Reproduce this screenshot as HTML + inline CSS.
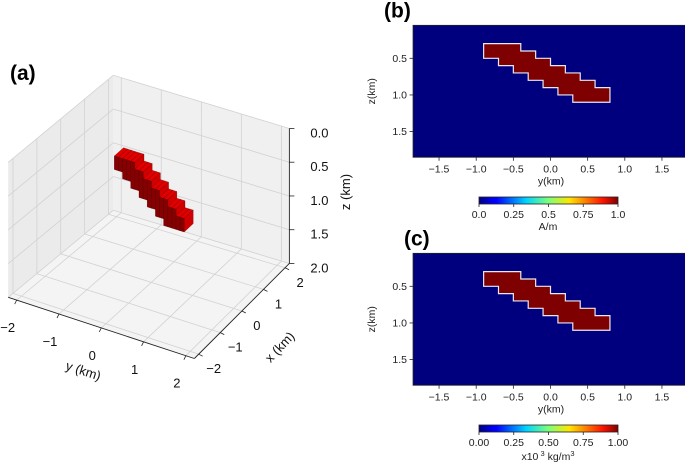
<!DOCTYPE html>
<html><head><meta charset="utf-8">
<style>
html,body{margin:0;padding:0;background:#fff;}
svg{display:block;font-family:"Liberation Sans","DejaVu Sans",sans-serif;}
</style></head>
<body>
<svg id="fig" width="685" height="467" viewBox="0 0 685 467">
<defs>
<linearGradient id="jet" x1="0" x2="1" y1="0" y2="0">
<stop offset="0" stop-color="#00007f"/><stop offset="0.11" stop-color="#0000ff"/>
<stop offset="0.125" stop-color="#0000ff"/><stop offset="0.34" stop-color="#00d4ff"/>
<stop offset="0.5" stop-color="#7dff7a"/><stop offset="0.65" stop-color="#ffe600"/>
<stop offset="0.89" stop-color="#ff1300"/><stop offset="1" stop-color="#7f0000"/>
</linearGradient>
</defs>
<g id="pa"></g>
<g id="pb"></g>
<g id="pc"></g>
</svg>
<script>
// body model: columns of 0.1 km in y, with top and bottom depth (km)
const colY0 = [-0.9,-0.8,-0.7,-0.6,-0.5,-0.4,-0.3,-0.2,-0.1,0.0,0.1,0.2,0.3,0.4,0.5,0.6,0.7];
const colTop = [0.3,0.3,0.3,0.3,0.3,0.4,0.4,0.5,0.5,0.6,0.6,0.7,0.7,0.8,0.8,0.9,0.9];
const colBot = [0.5,0.5,0.6,0.6,0.7,0.7,0.8,0.8,0.9,0.9,1.0,1.0,1.1,1.1,1.1,1.1,1.1];
const colW = 0.1;
const bodyX = [0.0, 0.4];
const yTicks2d = [-1.5,-1.0,-0.5,0.0,0.5,1.0,1.5];
const zTicks2d = [0.5,1.0,1.5];
const cbTicksB = ["0.0","0.25","0.5","0.75","1.0"];
const cbTicksC = ["0.00","0.25","0.50","0.75","1.00"];
const ticks3dY = [-2,-1,0,1,2];
const ticks3dX = [-2,-1,0,1,2];
const ticks3dZ = [0.0,0.5,1.0,1.5,2.0];

const NS="http://www.w3.org/2000/svg";
function mk(parent,tag,attrs,text){const e=document.createElementNS(NS,tag);for(const k in attrs)e.setAttribute(k,attrs[k]);if(text!==undefined)e.textContent=text;parent.appendChild(e);return e;}
function fmt(v){return (v<0?"\u2212":"")+Math.abs(v).toFixed(1);}

// ---------- 3D panel ----------
const pa=document.getElementById('pa');
const L=2.2;
function P(x,y,z){
  const c=((x+L)/(2*L))*((L-y)/(2*L));
  return [148.8+21.6*x+42.3*y+10*c, 145.4-21.6*x+13.9*y+67.5*z+8*c];
}
function poly(pts){return pts.map(p=>p[0].toFixed(1)+","+p[1].toFixed(1)).join(" ");}
function line3(a,b,attrs){const p=P(...a),q=P(...b);return mk(pa,'line',Object.assign({x1:p[0],y1:p[1],x2:q[0],y2:q[1]},attrs));}
let e;
e=mk(pa,'polygon',{points:poly([P(-L,-L,0),P(L,-L,0),P(L,-L,2),P(-L,-L,2)]),fill:"#ebebeb"});

e=mk(pa,'polygon',{points:poly([P(L,-L,0),P(L,L,0),P(L,L,2),P(L,-L,2)]),fill:"#f0f0f0"});

e=mk(pa,'polygon',{points:poly([P(-L,-L,2),P(L,-L,2),P(L,L,2),P(-L,L,2)]),fill:"#f4f4f4"});

const g={stroke:"#d2d2d2","stroke-width":0.8};
ticks3dY.forEach(y=>{line3([L,y,0],[L,y,2],g);line3([-L,y,2],[L,y,2],g);});
ticks3dX.forEach(x=>{line3([x,-L,0],[x,-L,2],g);line3([x,-L,2],[x,L,2],g);});
ticks3dZ.forEach(z=>{line3([-L,-L,z],[L,-L,z],g);line3([L,-L,z],[L,L,z],g);});
const ax={stroke:"#222","stroke-width":0.9};
line3([-L,-L,2],[-L,L,2],ax);line3([-L,L,2],[L,L,2],ax);line3([L,L,0],[L,L,2],ax);
ticks3dY.forEach(y=>{const p=P(-L,y,2);mk(pa,'line',{x1:p[0],y1:p[1],x2:p[0]-2,y2:p[1]+4,stroke:"#222","stroke-width":0.8});
  const t=mk(pa,'text',{x:p[0]-9,y:p[1]+32,"font-size":13,"text-anchor":"middle",fill:"#111"},y<0?"\u2212"+(-y):String(y));
  });
ticks3dX.forEach(x=>{const p=P(x,L,2);mk(pa,'line',{x1:p[0],y1:p[1],x2:p[0]+4,y2:p[1]+2,stroke:"#222","stroke-width":0.8});
  const t=mk(pa,'text',{x:p[0]+15,y:p[1]+19,"font-size":13,"text-anchor":"middle",fill:"#111"},x<0?"\u2212"+(-x):String(x));
  });
ticks3dZ.forEach(z=>{const p=P(L,L,z);mk(pa,'line',{x1:p[0],y1:p[1],x2:p[0]+5,y2:p[1],stroke:"#222","stroke-width":0.8});
  const t=mk(pa,'text',{x:p[0]+21,y:p[1]+9,"font-size":13,"text-anchor":"start",fill:"#111"},z.toFixed(1));
  });
const x0=bodyX[0],x1=bodyX[1];
colY0.forEach((y0,i)=>{
  const y1=y0+colW,zt=colTop[i],zb=colBot[i];
  let f=mk(pa,'polygon',{points:poly([P(x0,y0,zt),P(x1,y0,zt),P(x1,y1,zt),P(x0,y1,zt)]),fill:"#e00000",stroke:"#600","stroke-width":0.3});
  
  f=mk(pa,'polygon',{points:poly([P(x0,y1,zt),P(x1,y1,zt),P(x1,y1,zb),P(x0,y1,zb)]),fill:"#d00000",stroke:"#600","stroke-width":0.3});
  
  f=mk(pa,'polygon',{points:poly([P(x0,y0,zt),P(x0,y1,zt),P(x0,y1,zb),P(x0,y0,zb)]),fill:"#850000",stroke:"#500","stroke-width":0.3});
  
});
e=mk(pa,'text',{x:82,y:375,"font-size":13,fill:"#111",transform:"rotate(18 82 375)","text-anchor":"middle"},"y (km)");

e=mk(pa,'text',{x:283,y:350,"font-size":13,fill:"#111",transform:"rotate(-47 283 350)","text-anchor":"middle"},"x (km)");

e=mk(pa,'text',{x:350,y:192,"font-size":13,fill:"#111",transform:"rotate(-90 350 192)","text-anchor":"middle"},"z (km)");

e=mk(pa,'text',{x:10,y:80,"font-size":21,"font-weight":"bold",fill:"#000"},"(a)");


// ---------- 2D panels ----------
function panel(gid,dy,label,labelX,ticks,unit,unitIsC){
  const G=document.getElementById(gid);
  const sx=y=>550.5+74.3*y, sz=z=>58.3+dy+73.3*(z-0.5);
  const left=sx(-1.85),right=sx(1.85),top=sz(0.05),bot=sz(1.85);
  let r=mk(G,'rect',{x:left,y:top,width:right-left,height:bot-top,fill:"#00007f"});
  
  colY0.forEach((y0,i)=>{
    const c=mk(G,'rect',{x:sx(y0),y:sz(colTop[i]),width:sx(y0+colW)-sx(y0)+0.4,height:sz(colBot[i])-sz(colTop[i]),fill:"#7f0000"});
    
  });
  let d="M"+sx(colY0[0])+","+sz(colBot[0]);
  d+=" L"+sx(colY0[0])+","+sz(colTop[0]);
  colY0.forEach((y0,i)=>{d+=" L"+sx(y0)+","+sz(colTop[i])+" L"+sx(y0+colW)+","+sz(colTop[i]);});
  const n=colY0.length-1;
  d+=" L"+sx(colY0[n]+colW)+","+sz(colBot[n]);
  for(let i=n;i>=0;i--){d+=" L"+sx(colY0[i]+colW)+","+sz(colBot[i])+" L"+sx(colY0[i])+","+sz(colBot[i]);}
  d+=" Z";
  let o=mk(G,'path',{d:d,fill:"none",stroke:"#e8e8f0","stroke-width":1.2});
  
  mk(G,'rect',{x:left,y:top,width:right-left,height:bot-top,fill:"none",stroke:"#222","stroke-width":0.8});
  yTicks2d.forEach(y=>{mk(G,'line',{x1:sx(y),x2:sx(y),y1:bot,y2:bot+3.5,stroke:"#222","stroke-width":0.8});
    const t=mk(G,'text',{x:sx(y),y:bot+15,"font-size":10.5,"text-anchor":"middle",fill:"#222"},fmt(y));
    });
  zTicks2d.forEach(z=>{mk(G,'line',{x1:left-3.5,x2:left,y1:sz(z),y2:sz(z),stroke:"#222","stroke-width":0.8});
    const t=mk(G,'text',{x:left-6,y:sz(z)+3.5,"font-size":10.5,"text-anchor":"end",fill:"#222"},z.toFixed(1));
    });
  let t=mk(G,'text',{x:551,y:bot+27,"font-size":10.5,"text-anchor":"middle",fill:"#222"},"y(km)");
  
  t=mk(G,'text',{x:375,y:(top+bot)/2,"font-size":10.5,"text-anchor":"middle",fill:"#222",transform:"rotate(-90 375 "+((top+bot)/2)+")"},"z(km)");
  
  t=mk(G,'text',{x:labelX,y:top-8,"font-size":21,"font-weight":"bold",fill:"#000"},label);
  
  const cy=197+dy, cx0=479, cx1=618;
  let cb=mk(G,'rect',{x:cx0,y:cy,width:cx1-cx0,height:7,fill:"url(#jet)",stroke:"#222","stroke-width":0.8});
  
  ticks.forEach((s,i)=>{const x=cx0+(cx1-cx0)*i/(ticks.length-1);
    mk(G,'line',{x1:x,x2:x,y1:cy+7,y2:cy+10,stroke:"#222","stroke-width":0.8});
    const tt=mk(G,'text',{x:x,y:cy+21,"font-size":10.5,"text-anchor":"middle",fill:"#222"},s);
    });
  if(unitIsC){
    t=mk(G,'text',{x:548,y:cy+35,"font-size":10.5,"text-anchor":"middle",fill:"#222"});
    t.innerHTML='x10<tspan dy="-4" font-size="7.5"> 3</tspan><tspan dy="4"> kg/m</tspan><tspan dy="-4" font-size="7.5">3</tspan>';
  } else {
    t=mk(G,'text',{x:548,y:cy+33,"font-size":10.5,"text-anchor":"middle",fill:"#222"},unit);
  }
  
}
panel('pb',0,"(b)",384,cbTicksB,"A/m",false);
panel('pc',228,"(c)",404,cbTicksC,"",true);
</script>
</body></html>
